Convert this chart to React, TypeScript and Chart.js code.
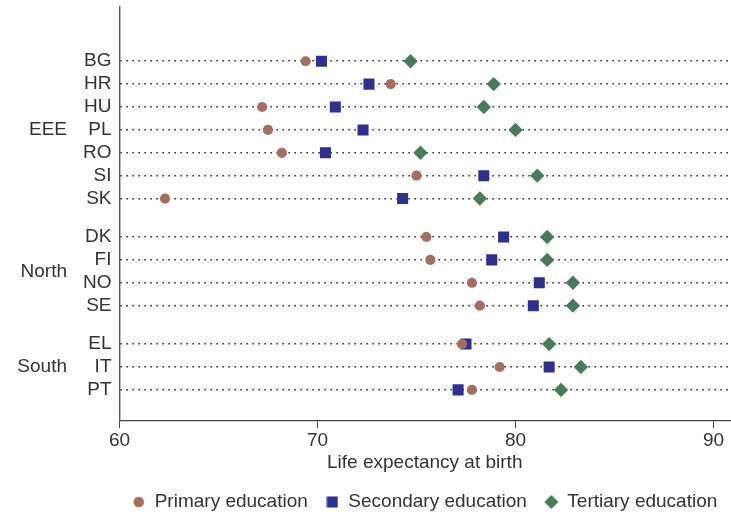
import React, { useEffect, useRef } from "react";
import { Chart, registerables } from "chart.js";

Chart.register(...registerables);

const countries = ["BG", "HR", "HU", "PL", "RO", "SI", "SK", "DK", "FI", "NO", "SE", "EL", "IT", "PT"];
const groups = ["EEE", "North", "South"];
const groupSizes = [7, 4, 3];
const primary = [69.4, 73.7, 67.2, 67.5, 68.2, 75.0, 62.3, 75.5, 75.7, 77.8, 78.2, 77.3, 79.2, 77.8];
const secondary = [70.2, 72.6, 70.9, 72.3, 70.4, 78.4, 74.3, 79.4, 78.8, 81.2, 80.9, 77.5, 81.7, 77.1];
const tertiary = [74.7, 78.9, 78.4, 80.0, 75.2, 81.1, 78.2, 81.6, 81.6, 82.9, 82.9, 81.7, 83.3, 82.3];
const xTicks = [60, 70, 80, 90];
const seriesNames = ["Primary education", "Secondary education", "Tertiary education"];
const xTitle = "Life expectancy at birth";

const FONT = "'Liberation Sans', Arial, Helvetica, sans-serif";
const TEXT = "#333333";
const COLORS = ["#A26F60", "#2D2F91", "#487A5B"];

// row positions: one unit per row, extra gap between groups
const GROUP_GAP = 0.68;
const rowPos: number[] = [];
const groupOf: number[] = [];
{
  let idx = 0;
  groupSizes.forEach((n, g) => {
    for (let k = 0; k < n; k++) {
      rowPos.push(idx + g * GROUP_GAP);
      groupOf.push(g);
      idx++;
    }
  });
}

function makeIcon(kind: string, color: string): HTMLCanvasElement {
  const c = document.createElement("canvas");
  const size = kind === "diamond" ? 16 : 12;
  c.width = size;
  c.height = size;
  const ctx = c.getContext("2d")!;
  ctx.fillStyle = color;
  const m = size / 2;
  ctx.beginPath();
  if (kind === "circle") {
    ctx.arc(m, m, 5.3, 0, Math.PI * 2);
  } else if (kind === "square") {
    ctx.rect(m - 5.5, m - 5.5, 11, 11);
  } else {
    ctx.moveTo(m, m - 7);
    ctx.lineTo(m + 7, m);
    ctx.lineTo(m, m + 7);
    ctx.lineTo(m - 7, m);
    ctx.closePath();
  }
  ctx.fill();
  return c;
}

export default function App() {
  const ref = useRef<HTMLCanvasElement | null>(null);

  useEffect(() => {
    if (!ref.current) return;
    const icons = [
      makeIcon("circle", COLORS[0]),
      makeIcon("square", COLORS[1]),
      makeIcon("diamond", COLORS[2]),
    ];

    const groupLabelPlugin = {
      id: "groupLabels",
      afterDraw(chart: any) {
        const ys = chart.scales.y;
        const ctx = chart.ctx;
        ctx.save();
        ctx.font = `19px ${FONT}`;
        ctx.fillStyle = TEXT;
        ctx.textAlign = "right";
        ctx.textBaseline = "middle";
        groups.forEach((name, g) => {
          const ps = rowPos.filter((_, i) => groupOf[i] === g);
          const mid = ps.reduce((a, b) => a + b, 0) / ps.length;
          ctx.fillText(name, 67, ys.getPixelForValue(mid));
        });
        ctx.restore();
      },
    };

    const legendShift = {
      id: "legendShift",
      afterLayout(chart: any) {
        const lg = chart.legend;
        if (!lg) return;
        const ca = chart.chartArea;
        const dx = (ca.left + ca.right) / 2 - (lg.left + lg.right) / 2;
        const dy = -11.5;
        lg.left += dx;
        lg.right += dx;
        lg.top += dy;
      },
    };

    const mk = (vals: number[], i: number, style: string, radius: number) => ({
      label: seriesNames[i],
      data: vals.map((v, k) => ({ x: v, y: rowPos[k] })),
      backgroundColor: COLORS[i],
      borderColor: COLORS[i],
      pointStyle: style,
      pointRadius: radius,
      pointBorderWidth: 0,
      showLine: false,
    });

    const xMax = 60 + (730 - 119.5) / 19.8;

    const chart = new Chart(ref.current, {
      type: "scatter",
      data: {
        datasets: [
          mk(primary, 0, "circle", 5.1),
          mk(secondary, 1, "rect", 7.8),
          mk(tertiary, 2, "rectRot", 7.2),
        ],
      },
      options: {
        animation: false,
        responsive: false,
        layout: { autoPadding: false, padding: { top: 7, right: 1, left: 0, bottom: 0 } },
        plugins: {
          tooltip: { enabled: false },
          legend: {
            position: "bottom",
            maxHeight: 30,
            labels: {
              usePointStyle: true,
              boxWidth: 13,
              boxHeight: 13,
              padding: 18,
              color: TEXT,
              font: { family: FONT, size: 19 },
              generateLabels: (c: any) => {
                const items = (Chart as any).defaults.plugins.legend.labels.generateLabels(c);
                items.forEach((it: any, i: number) => {
                  it.pointStyle = icons[i];
                });
                return items;
              },
            },
          },
        },
        scales: {
          x: {
            type: "linear",
            min: 60,
            max: xMax,
            afterBuildTicks: (s: any) => {
              s.ticks = xTicks.map((v) => ({ value: v }));
            },
            afterFit: (s: any) => {
              s.height = 65;
              s.paddingLeft = 0;
              s.paddingRight = 0;
            },
            ticks: {
              color: TEXT,
              font: { family: FONT, size: 19 },
              padding: 1,
              autoSkip: false,
              maxRotation: 0,
            },
            grid: {
              drawOnChartArea: false,
              drawTicks: true,
              tickLength: 7,
              color: "#444",
              lineWidth: 1,
            },
            border: { display: true, color: "#444", width: 1.3 },
            title: {
              display: true,
              text: xTitle,
              color: TEXT,
              font: { family: FONT, size: 19 },
              padding: { top: 0, bottom: 11.6 },
            },
          },
          y: {
            type: "linear",
            reverse: true,
            min: -2.37,
            max: 15.72,
            afterBuildTicks: (s: any) => {
              s.ticks = rowPos.map((v) => ({ value: v }));
            },
            afterFit: (s: any) => {
              s.width = 119.5;
              s.paddingTop = 0;
              s.paddingBottom = 0;
            },
            ticks: {
              color: TEXT,
              font: { family: FONT, size: 19 },
              padding: 8,
              autoSkip: false,
              callback: (_v: any, i: number) => countries[i],
            },
            grid: {
              drawTicks: false,
              color: "#222",
              lineWidth: 1.5,
            },
            border: { display: true, color: "#555", width: 1.4, dash: [1.5, 4.5] },
          },
        },
      },
      plugins: [groupLabelPlugin, legendShift],
    } as any);

    return () => chart.destroy();
  }, []);

  return (
    <div style={{ position: "absolute", left: 0, top: 0, width: 731, height: 516, background: "#fff" }}>
      <canvas ref={ref} width={731} height={516} style={{ display: "block" }} />
    </div>
  );
}
